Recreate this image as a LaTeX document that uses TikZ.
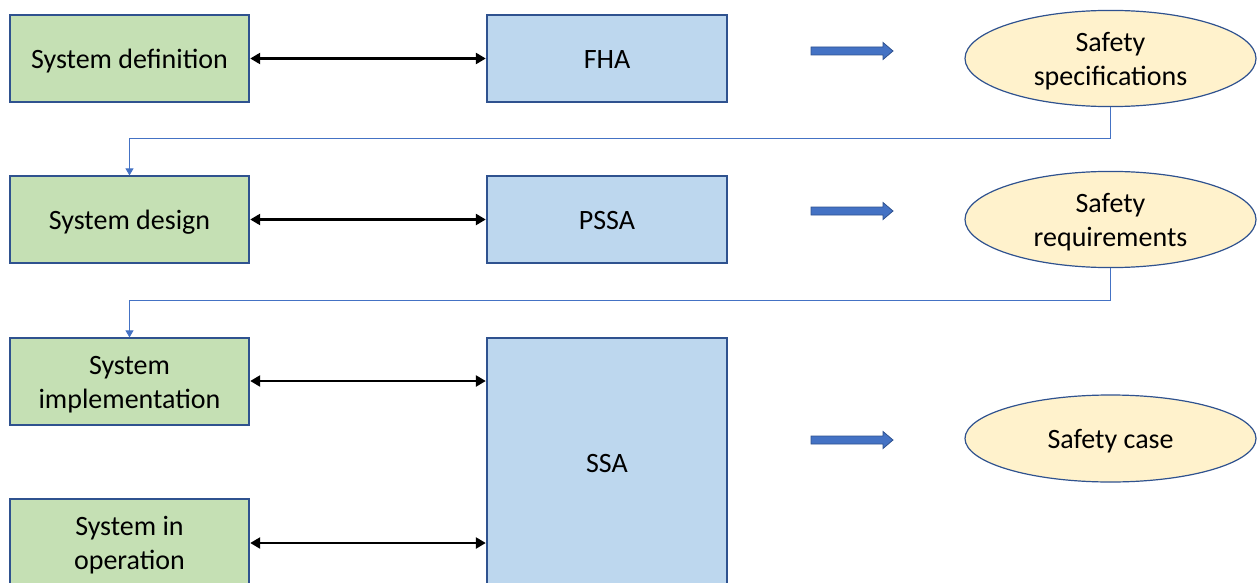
\documentclass[tikz,border=0pt]{standalone}
\usepackage{fontspec}
\setmainfont{Carlito}
\usetikzlibrary{arrows.meta,shapes.geometric}
\definecolor{greenfill}{HTML}{C5E0B4}
\definecolor{bluefill}{HTML}{BDD7EE}
\definecolor{yellowfill}{HTML}{FFF2CC}
\definecolor{edgecol}{HTML}{2F528F}
\definecolor{accent}{HTML}{4472C4}
\newcommand\lbl[1]{\raisebox{-3pt}[\height][\depth]{\begin{tabular}{@{}c@{}}#1\end{tabular}}}
\tikzset{
  basebox/.style={draw=edgecol, line width=1.2pt, inner sep=0pt,
    font=\fontsize{28}{34}\selectfont},
  greenbox/.style={basebox, fill=greenfill, minimum width=239pt, minimum height=87pt},
  bluebox/.style={basebox, fill=bluefill, minimum width=240pt, minimum height=87pt},
  outcome/.style={basebox, fill=yellowfill, ellipse, minimum width=291pt, minimum height=87pt},
  biarrow/.style={black, line width=2.4pt, {Triangle[width=11pt,length=10pt]}-{Triangle[width=11pt,length=10pt]}, shorten <=0.6pt, shorten >=0.6pt},
  feedback/.style={accent, line width=0.9pt, -{Triangle[width=8pt,length=7pt]}},
  fatarrow/.style={fill=accent, draw=edgecol, line width=0.8pt, line join=miter}
}
\begin{document}
\begin{tikzpicture}[x=1pt,y=-1pt]
\useasboundingbox (0,0) rectangle (1257,583);
% left column
\node[greenbox] (sdef) at (129.5,58.5) {\lbl{System definition}};
\node[greenbox] (sdes) at (129.5,219.5) {\lbl{System design}};
\node[greenbox] (simp) at (129.5,381.5) {\lbl{System\\implementation}};
\node[greenbox] (sop) at (129.5,542.5) {\lbl{System in\\operation}};
% middle column
\node[bluebox] (fha) at (607,58.5) {\lbl{FHA}};
\node[bluebox] (pssa) at (607,219.5) {\lbl{PSSA}};
\node[bluebox, minimum height=250pt] (ssa) at (607,463) {\lbl{SSA}};
% right column
\node[outcome] (sspec) at (1110.5,58.5) {\lbl{Safety\\specifications}};
\node[outcome] (sreq) at (1110.5,219.5) {\lbl{Safety\\requirements}};
\node[outcome] (scase) at (1110.5,438.5) {\lbl{Safety case}};
% two-way arrows
\draw[biarrow] (sdef.east) -- (fha.west);
\draw[biarrow] (sdes.east) -- (pssa.west);
\draw[biarrow] (simp.east |- 0,381) -- (ssa.west |- 0,381);
\draw[biarrow] (sop.east |- 0,543) -- (ssa.west |- 0,543);
% block arrows
\foreach \yy in {51,211,440}{
  \draw[fatarrow] (811,\yy-4) -- (883,\yy-4) -- (883,\yy-8.5) -- (893,\yy) -- (883,\yy+8.5) -- (883,\yy+4) -- (811,\yy+4) -- cycle;
}
% feedback connectors
\draw[feedback] (sspec.south) -- (sspec.south |- 0,138) -| (sdes.north);
\draw[feedback] (sreq.south) -- (sreq.south |- 0,300) -| (simp.north);
\end{tikzpicture}
\end{document}
